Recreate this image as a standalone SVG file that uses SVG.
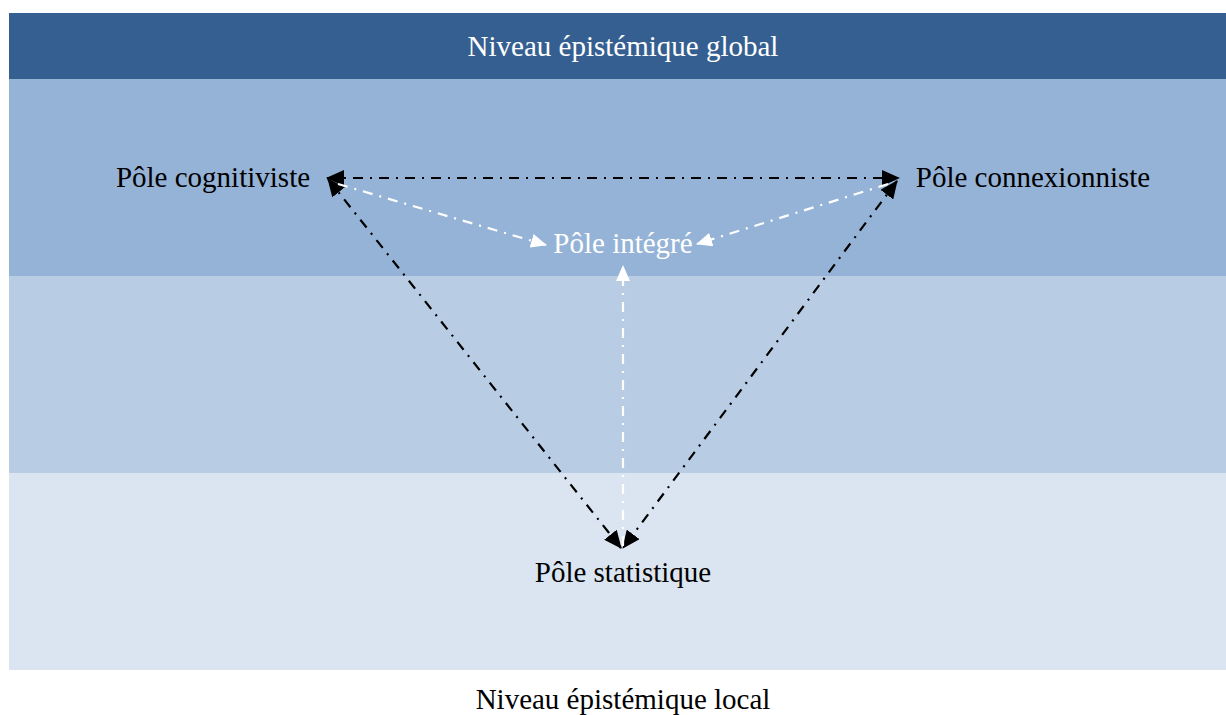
<svg xmlns="http://www.w3.org/2000/svg" width="1226" height="715" viewBox="0 0 1226 715">
<style>
text{font-family:"Liberation Serif","Times New Roman",serif;font-size:29px;fill:#000}
.w{fill:#fff}
.bl{stroke:#000;stroke-width:2.2;fill:none;stroke-dasharray:10 7 2 7}
.wl{stroke:#fff;stroke-width:2.2;fill:none;stroke-dasharray:10 7 2 7}
</style>
<defs>
<marker id="ab" viewBox="0 0 18 16" refX="17" refY="8" markerWidth="18" markerHeight="16" markerUnits="userSpaceOnUse" orient="auto-start-reverse"><path d="M0,0 L18,8 L0,16 Z" fill="#000"/></marker>
<marker id="aw" viewBox="0 0 16 14" refX="15" refY="7" markerWidth="16" markerHeight="14" markerUnits="userSpaceOnUse" orient="auto"><path d="M0,0 L16,7 L0,14 Z" fill="#fff"/></marker>
</defs>
<g id="bands">
<rect x="9" y="13" width="1217" height="66" fill="#365F91"/>
<rect x="9" y="79" width="1217" height="197" fill="#95B3D7"/>
<rect x="9" y="276" width="1217" height="197" fill="#B8CCE4"/>
<rect x="9" y="473" width="1217" height="197" fill="#DBE5F1"/>
</g>
<g id="connectors">
<line class="bl" x1="327" y1="178" x2="899" y2="178" marker-start="url(#ab)" marker-end="url(#ab)"/>
<line class="bl" x1="328" y1="179" x2="621" y2="548" marker-start="url(#ab)" marker-end="url(#ab)"/>
<line class="bl" x1="897" y1="181" x2="623" y2="548" marker-start="url(#ab)" marker-end="url(#ab)"/>
<line class="wl" x1="338" y1="184" x2="546" y2="245" marker-end="url(#aw)"/>
<line class="wl" x1="888" y1="184" x2="697" y2="244" marker-end="url(#aw)"/>
<line class="wl" x1="623" y1="546" x2="623" y2="266" marker-end="url(#aw)"/>
</g>
<g id="title"><text class="w" x="623" y="56" text-anchor="middle">Niveau épistémique global</text></g>
<g id="cognitiviste"><text x="213" y="187" text-anchor="middle">Pôle cognitiviste</text></g>
<g id="connexionniste"><text x="1033" y="187" text-anchor="middle">Pôle connexionniste</text></g>
<g id="integre"><text class="w" x="623" y="253" text-anchor="middle">Pôle intégré</text></g>
<g id="statistique"><text x="623" y="582" text-anchor="middle">Pôle statistique</text></g>
<g id="local"><text x="623" y="709" text-anchor="middle">Niveau épistémique local</text></g>
</svg>
